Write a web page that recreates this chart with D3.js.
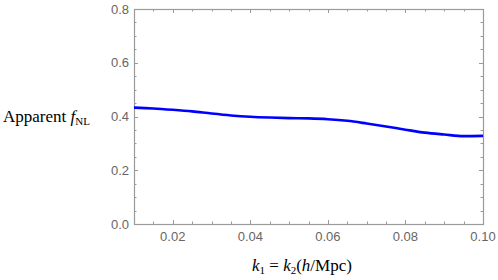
<!DOCTYPE html>
<html>
<head>
<meta charset="utf-8">
<script src="https://cdn.jsdelivr.net/npm/d3@7"></script>
<style>
  body { margin: 0; background: #fff; }
  svg { display: block; }
</style>
</head>
<body>
<div class="chartContainer"></div>
<script>
// data
var kValues = [0.010, 0.015, 0.020, 0.025, 0.030, 0.035, 0.040, 0.045, 0.050, 0.055,
               0.060, 0.065, 0.070, 0.075, 0.080, 0.085, 0.090, 0.095, 0.100];
var fnlValues = [0.433, 0.430, 0.425, 0.419, 0.411, 0.404, 0.399, 0.396, 0.394, 0.393,
                 0.390, 0.384, 0.374, 0.363, 0.351, 0.340, 0.333, 0.327, 0.328];
var xMajorTicks = [0.02, 0.04, 0.06, 0.08, 0.10];
var yMajorTicks = [0.0, 0.2, 0.4, 0.6, 0.8];

var width = 498;
var height = 280;
// plot box (window.top is reserved, so the names get a prefix)
var plotLeft = 134, plotRight = 483, plotTop = 9, plotBottom = 224;

var xScale = d3.scaleLinear().domain([0.01, 0.10]).range([plotLeft, plotRight]);
var yScale = d3.scaleLinear().domain([0, 0.8]).range([plotBottom, plotTop]);

var svg = d3.select('.chartContainer')
            .append('svg')
              .attr('width', width)
              .attr('height', height);

var frameColor = '#9a9a9a';
var xMinor = d3.range(0.01, 0.1001, 0.005).filter(function (d) {
  return !xMajorTicks.some(function (m) { return Math.abs(m - d) < 1e-9; });
});
var yMinor = d3.range(0.05, 0.8, 0.05).filter(function (d) {
  return !yMajorTicks.some(function (m) { return Math.abs(m - d) < 1e-9; });
});

// ticks on all four sides, pointing inward
var ticks = svg.append('g').attr('stroke', frameColor).attr('stroke-width', 1);
function xTick(v, len) {
  var x = Math.round(xScale(v)) + 0.5;
  ticks.append('line').attr('x1', x).attr('x2', x).attr('y1', plotBottom).attr('y2', plotBottom - len);
  ticks.append('line').attr('x1', x).attr('x2', x).attr('y1', plotTop).attr('y2', plotTop + len);
}
function yTick(v, len) {
  var y = Math.round(yScale(v)) + 0.5;
  ticks.append('line').attr('y1', y).attr('y2', y).attr('x1', plotLeft).attr('x2', plotLeft + len);
  ticks.append('line').attr('y1', y).attr('y2', y).attr('x1', plotRight).attr('x2', plotRight - len);
}
xMajorTicks.forEach(function (v) { xTick(v, 4); });
xMinor.forEach(function (v) { xTick(v, 2.5); });
yMajorTicks.forEach(function (v) { yTick(v, 4); });
yMinor.forEach(function (v) { yTick(v, 2.5); });

// the frame
svg.append('rect')
   .attr('x', plotLeft + 0.5).attr('y', plotTop + 0.5)
   .attr('width', plotRight - plotLeft).attr('height', plotBottom - plotTop)
   .attr('fill', 'none')
   .attr('stroke', frameColor)
   .attr('stroke-width', 1.2);

// tick labels
svg.append('g').selectAll('text')
   .data(xMajorTicks).enter()
   .append('text')
     .attr('x', function (d) { return xScale(d); })
     .attr('y', 241)
     .attr('text-anchor', 'middle')
     .attr('font-family', 'Liberation Sans, Arial, sans-serif')
     .attr('font-size', 13)
     .attr('fill', '#666')
     .text(function (d) { return d.toFixed(2); });

svg.append('g').selectAll('text')
   .data(yMajorTicks).enter()
   .append('text')
     .attr('x', 129)
     .attr('y', function (d) { return yScale(d) + 4.5; })
     .attr('text-anchor', 'end')
     .attr('font-family', 'Liberation Sans, Arial, sans-serif')
     .attr('font-size', 13)
     .attr('fill', '#666')
     .text(function (d) { return d.toFixed(1); });

// axis labels
var yLabel = svg.append('text')
   .attr('x', 3)
   .attr('y', 122)
   .attr('font-family', 'Liberation Serif, Times New Roman, serif')
   .attr('font-size', 17)
   .attr('fill', '#000');
yLabel.append('tspan').text('Apparent ');
yLabel.append('tspan').attr('font-style', 'italic').text('f');
yLabel.append('tspan').attr('font-size', 11).attr('dy', 3).text('NL');

var xLabel = svg.append('text')
   .attr('x', 252)
   .attr('y', 271)
   .attr('font-family', 'Liberation Serif, Times New Roman, serif')
   .attr('font-size', 17)
   .attr('fill', '#000');
xLabel.append('tspan').attr('font-style', 'italic').text('k');
xLabel.append('tspan').attr('font-size', 11).attr('dy', 3).text('1');
xLabel.append('tspan').attr('dy', -3).text(' = ');
xLabel.append('tspan').attr('font-style', 'italic').text('k');
xLabel.append('tspan').attr('font-size', 11).attr('dy', 3).text('2');
xLabel.append('tspan').attr('dy', -3).text('(');
xLabel.append('tspan').attr('font-style', 'italic').text('h');
xLabel.append('tspan').text('/Mpc)');

// the curve
var points = kValues.map(function (k, i) { return {k: k, f: fnlValues[i]}; });
var line = d3.line()
             .x(function (d) { return xScale(d.k); })
             .y(function (d) { return yScale(d.f); })
             .curve(d3.curveMonotoneX);

svg.append('path')
   .datum(points)
   .attr('d', line)
   .attr('fill', 'none')
   .attr('stroke', '#0000ff')
   .attr('stroke-width', 2.6)
   .attr('stroke-linejoin', 'round');
</script>
</body>
</html>
